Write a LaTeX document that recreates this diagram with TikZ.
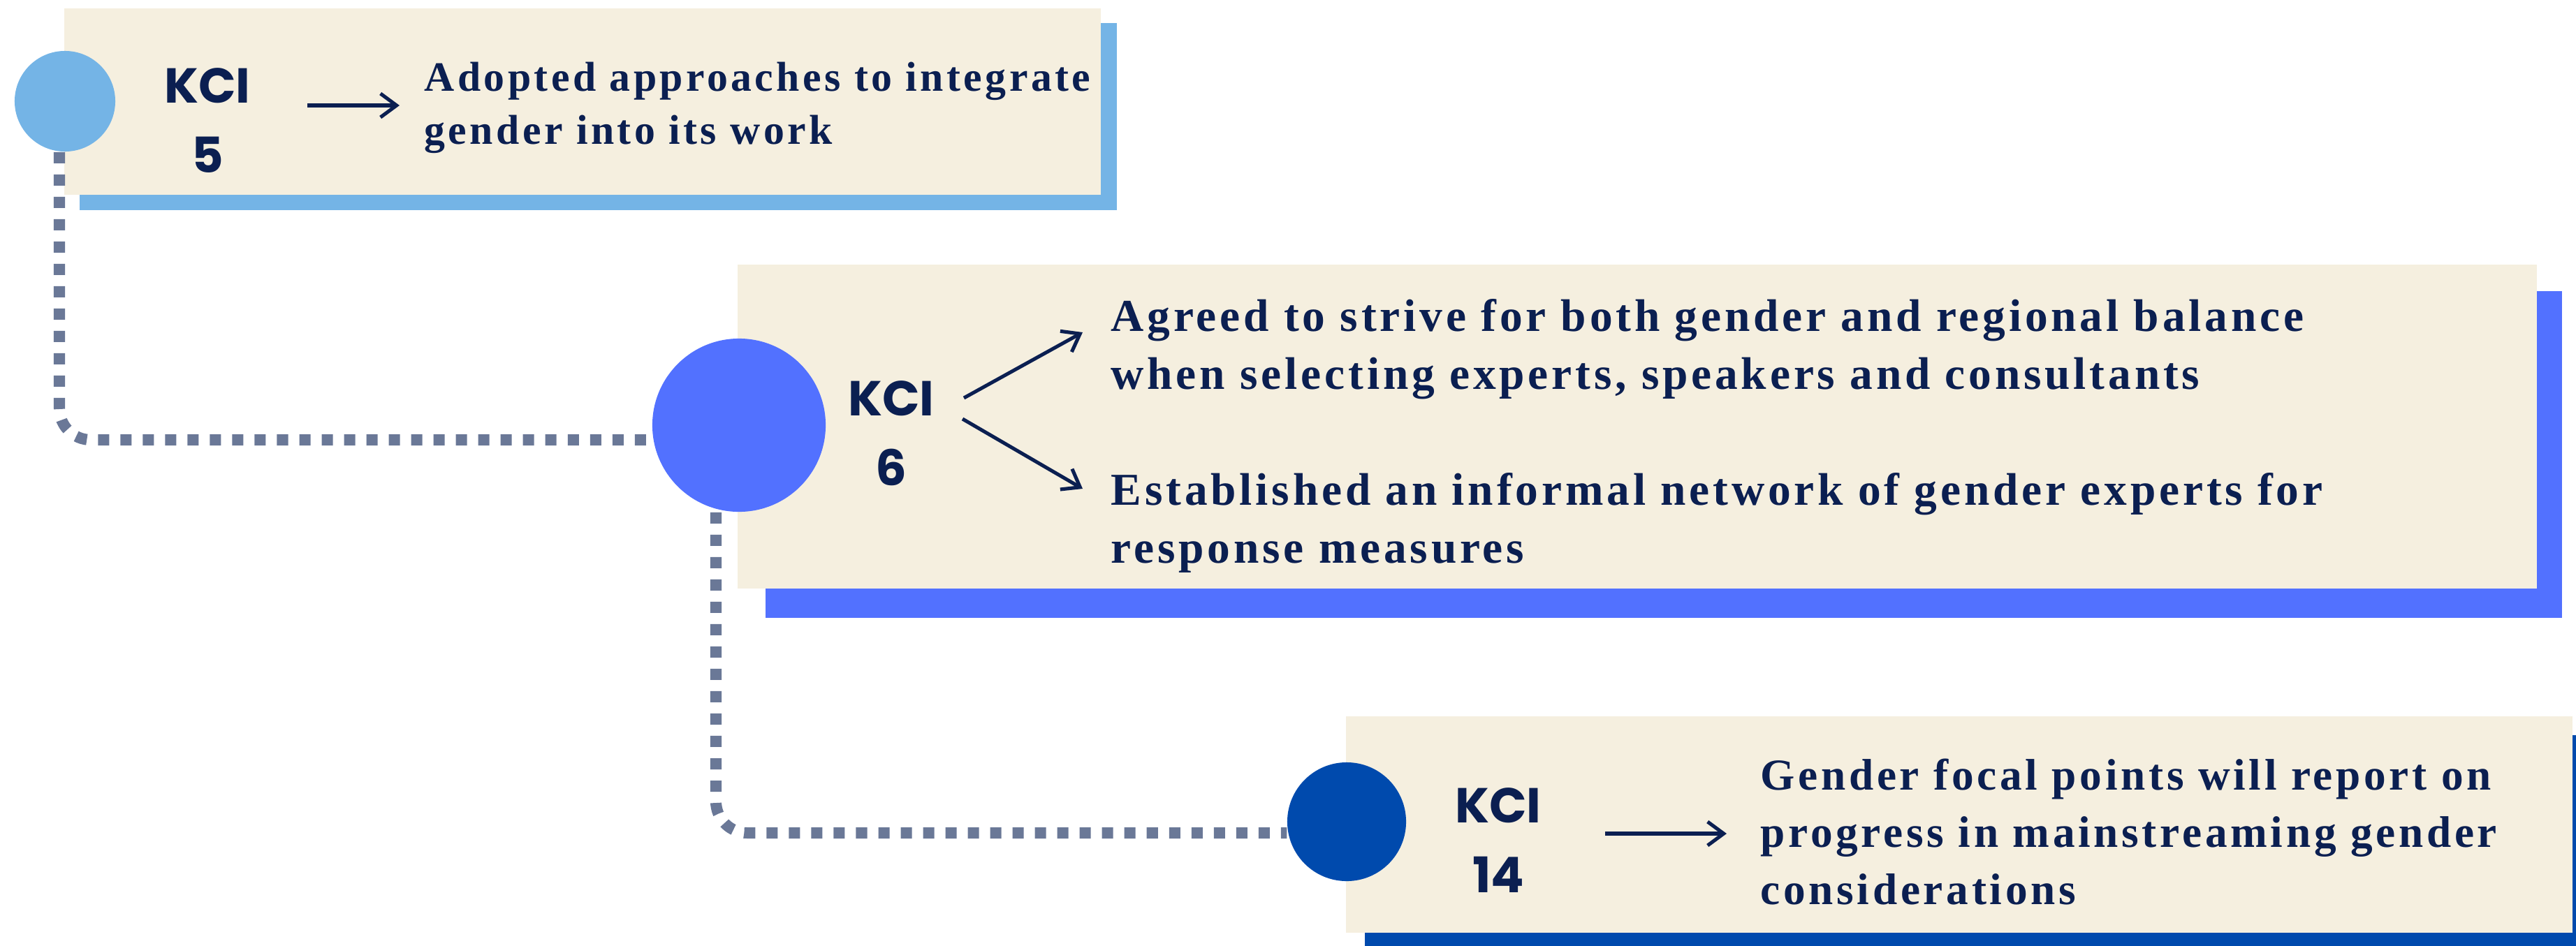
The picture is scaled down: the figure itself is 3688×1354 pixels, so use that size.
\documentclass[tikz,border=0pt]{standalone}
\usepackage{fontspec}
\setmainfont{Liberation Serif}
\newfontfamily\itemfont{Liberation Serif}[LetterSpace=7.4]
\newfontfamily\kcifont{Poppins}
\usetikzlibrary{arrows.meta,positioning}
\definecolor{cream}{HTML}{F5EFDF}
\definecolor{navy}{HTML}{0B1F51}
\definecolor{skyblue}{HTML}{74B4E6}
\definecolor{brightblue}{HTML}{5271FF}
\definecolor{deepblue}{HTML}{004AAD}
\definecolor{slate}{HTML}{6A7897}
\pgfdeclarelayer{back}
\pgfsetlayers{back,main}
\tikzset{
  kcidot/.style={circle, fill=#1, inner sep=0pt},
  kcilabel/.style={font=\kcifont\bfseries\fontsize{20}{28.2}\selectfont, text=navy, align=center, anchor=base, inner sep=0pt},
  itemtext/.style 2 args={font=\itemfont\bfseries\fontsize{#1}{#2}\selectfont, text=navy, align=left, anchor=base west, inner sep=0pt},
  pointer/.style={-{Straight Barb[length=0.23cm, width=0.34cm]}, line width=1.45pt, navy},
  trail/.style={slate, line width=0.16cm, dash pattern=on 0.16cm off 0.16cm, rounded corners=0.45cm},
}

\begin{document}
\begin{tikzpicture}[x=0.01cm, y=-0.01cm]
  \useasboundingbox (0,0) rectangle (3688,1354);

  % circles
  \node[kcidot=skyblue, minimum size=1.44cm] (c5) at (93,145) {};
  \node[kcidot=brightblue, minimum size=2.48cm] (c6) at (1058,609) {};
  \node[kcidot=deepblue, minimum size=1.7cm] (c14) at (1928,1177) {};

  \begin{pgfonlayer}{back}
    % shadows
    \fill[skyblue] (114,33) rectangle (1599,301);
    \fill[brightblue] (1096,417) rectangle (3668,885);
    \fill[deepblue] (1954,1053) rectangle (3720,1380);
    % cards
    \fill[cream] (92,12) rectangle (1576,279);
    \fill[cream] (1056,379) rectangle (3632,843);
    \fill[cream] (1927,1026) rectangle (3683,1336);
    % dotted trails
    \draw[trail] ([xshift=-0.08cm]c5.south) |- ([yshift=-0.21cm]c6.west);
    \draw[trail] ([xshift=-0.33cm]c6.south) |- ([yshift=-0.16cm]c14.west);
  \end{pgfonlayer}

  % KCI labels (anchored on the last line)
  \node[kcilabel] (k5) at (297,247) {KCI\\5};
  \node[kcilabel] (k6) at (1276,695) {KCI\\6};
  \node[kcilabel] (k14) at (2145,1278) {KCI\\14};

  % statements
  \node[itemtext={17}{21.6}] (t5) at (607,206)
    {Adopted approaches to integrate\\gender into its work};
  \node[itemtext={18.6}{23.6}] (t6a) at (1590,557)
    {Agreed to strive for both gender and regional balance\\when selecting experts, speakers and consultants};
  \node[itemtext={18.6}{23.6}] (t6b) at (1590,806)
    {Established an informal network of gender experts for\\response measures};
  \node[itemtext={18}{23.3}] (t14) at (2520,1295)
    {Gender focal points will report on\\progress in mainstreaming gender\\considerations};

  % arrows
  \coordinate (p5s) at (440,151);
  \coordinate (p5e) at (572,151);
  \coordinate (p6as) at (1380,570);
  \coordinate (p6ae) at (1550,476);
  \coordinate (p6bs) at (1378,600);
  \coordinate (p6be) at (1550,700);
  \coordinate (p14s) at (2298,1194);
  \coordinate (p14e) at (2472,1194);
  \draw[pointer] (p5s) -- (p5e);
  \draw[pointer] (p6as) -- (p6ae);
  \draw[pointer] (p6bs) -- (p6be);
  \draw[pointer] (p14s) -- (p14e);
\end{tikzpicture}
\end{document}
